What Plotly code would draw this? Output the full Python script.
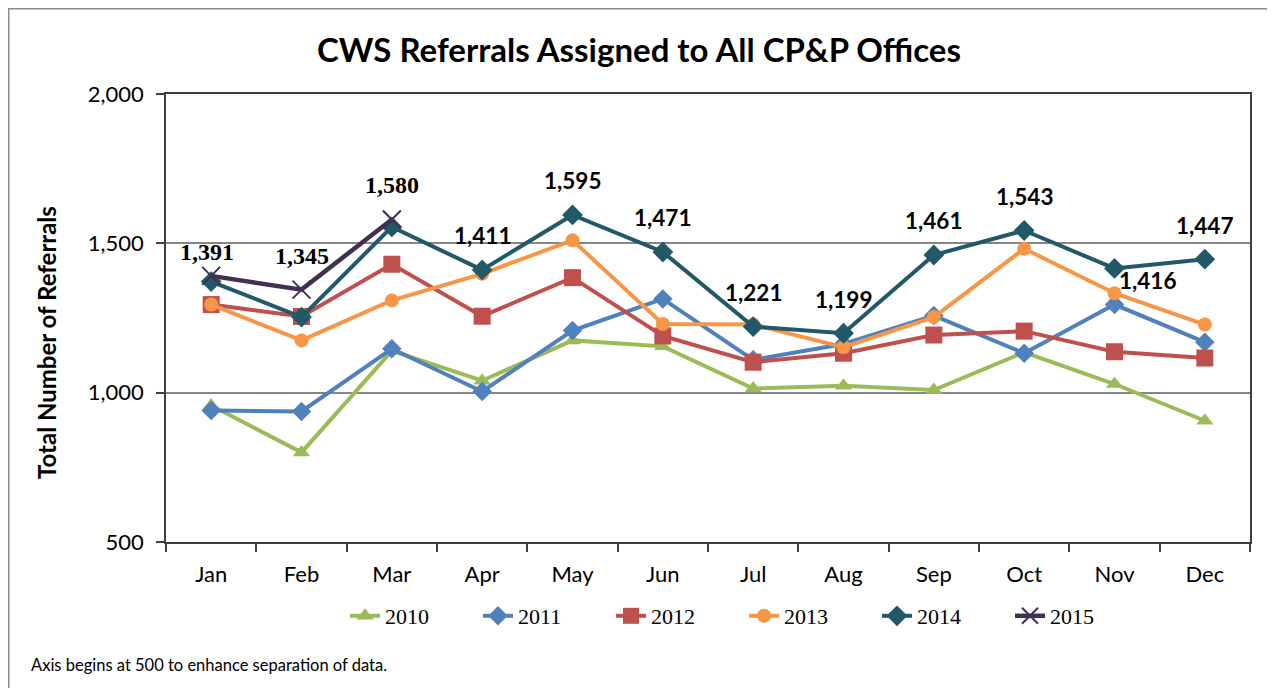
import plotly.graph_objects as go

months = ["Jan", "Feb", "Mar", "Apr", "May", "Jun", "Jul", "Aug", "Sep", "Oct", "Nov", "Dec"]

y2010 = [957, 800, 1140, 1040, 1175, 1155, 1014, 1023, 1009, 1135, 1029, 906]
y2011 = [940, 937, 1147, 1004, 1208, 1314, 1110, 1163, 1258, 1132, 1295, 1169]
y2012 = [1295, 1255, 1430, 1256, 1385, 1190, 1102, 1132, 1193, 1206, 1137, 1116]
y2013 = [1295, 1175, 1309, 1398, 1510, 1230, 1228, 1152, 1253, 1482, 1333, 1228]
y2014 = [1372, 1253, 1555, 1411, 1595, 1471, 1221, 1199, 1461, 1543, 1416, 1447]
y2015 = [1391, 1345, 1580]

series = [
    ("2010", y2010, "#9BBB59", "triangle-up", 15),
    ("2011", y2011, "#4F81BD", "diamond", 15),
    ("2012", y2012, "#C0504D", "square", 17),
    ("2013", y2013, "#F79646", "circle", 14),
    ("2014", y2014, "#215968", "diamond", 16),
    ("2015", y2015, "#403152", "x-thin", 18),
]

# figure drawn inside the page's 8px body margin
W, H = 1267, 680
L, T, R, B = 158, 86, 25, 146
PW, PH = W - L - R, H - T - B

fig = go.Figure()
for name, vals, color, sym, size in series:
    marker = dict(symbol=sym, size=size, color=color)
    if sym == "x-thin":
        marker["line"] = dict(color=color, width=2)
    fig.add_trace(go.Scatter(
        x=months[:len(vals)], y=vals, name=name, mode="lines+markers",
        line=dict(color=color, width=4.5 if name == "2015" else 4),
        marker=marker,
    ))

annotations = []
special = {"Jan": (-4, 24), "Nov": (33, -12)}
for i, m in enumerate(months):
    if i < len(y2015):
        v = y2015[i]
        font = dict(family="Liberation Serif, Times New Roman, serif", size=24, color="black")
    else:
        v = y2014[i]
        font = dict(family="Lato, sans-serif", size=22.5, color="black")
    xs, ys = special.get(m, (0, 34))
    annotations.append(dict(x=m, y=v, xref="x", yref="y", text=f"<b>{v:,}</b>", showarrow=False,
                            xshift=xs, yshift=ys, font=font,
                            xanchor="center", yanchor="middle"))

annotations.append(dict(text="<b>Total Number of Referrals</b>", xref="paper", yref="paper",
                        x=0, y=0.5, xshift=-120, yshift=-25, textangle=-90, showarrow=False,
                        font=dict(family="Lato, sans-serif", size=24, color="black"),
                        xanchor="center", yanchor="middle"))
annotations.append(dict(text="Axis begins at 500 to enhance separation of data.",
                        xref="paper", yref="paper", x=0, y=0, xshift=-137, yshift=-123,
                        showarrow=False, xanchor="left", yanchor="middle",
                        font=dict(family="Lato, sans-serif", size=16.5, color="black")))

fig.update_layout(
    width=W, height=H,
    margin=dict(l=L, r=R, t=T, b=B),
    paper_bgcolor="white", plot_bgcolor="white",
    title=dict(text="<b>CWS Referrals Assigned to All CP&P Offices</b>",
               x=631 / W, xref="container", y=1 - 42 / H, yref="container",
               xanchor="center", yanchor="middle",
               font=dict(family="Lato, sans-serif", size=33, color="black")),
    xaxis=dict(type="category", categoryorder="array", categoryarray=months,
               range=[-0.5, 11.5], tickson="boundaries", ticks="outside", ticklen=8,
               tickcolor="#404040", tickwidth=1.5, ticklabelstandoff=12,
               showline=True, linecolor="#404040", linewidth=1.5, mirror=True,
               showgrid=False,
               tickfont=dict(family="Lato, sans-serif", size=22, color="black")),
    yaxis=dict(range=[500, 2000], dtick=500, tickformat=",", ticks="outside", ticklen=8,
               tickcolor="#404040", tickwidth=1.5, ticklabelstandoff=8,
               showline=True, linecolor="#404040", linewidth=1.5, mirror=True,
               showgrid=True, gridcolor="#868686", gridwidth=1.5, zeroline=False,
               tickfont=dict(family="Lato, sans-serif", size=22, color="black")),
    legend=dict(orientation="h", x=(337 - L) / PW, xanchor="left",
                y=-(595 - 8 - (T + PH)) / PH, yanchor="top",
                entrywidth=88, entrywidthmode="pixels",
                font=dict(family="Liberation Serif, Times New Roman, serif", size=22, color="black"),
                bgcolor="rgba(0,0,0,0)"),
    annotations=annotations,
    shapes=[dict(type="rect", xref="paper", yref="paper",
                 x0=-L / PW, x1=(1262 - L) / PW,
                 y0=-(H + 20 - (T + PH)) / PH, y1=1 + T / PH,
                 line=dict(color="#8c8c8c", width=3), fillcolor="rgba(0,0,0,0)", layer="below")],
    showlegend=True,
)

fig.write_html("out.html")
